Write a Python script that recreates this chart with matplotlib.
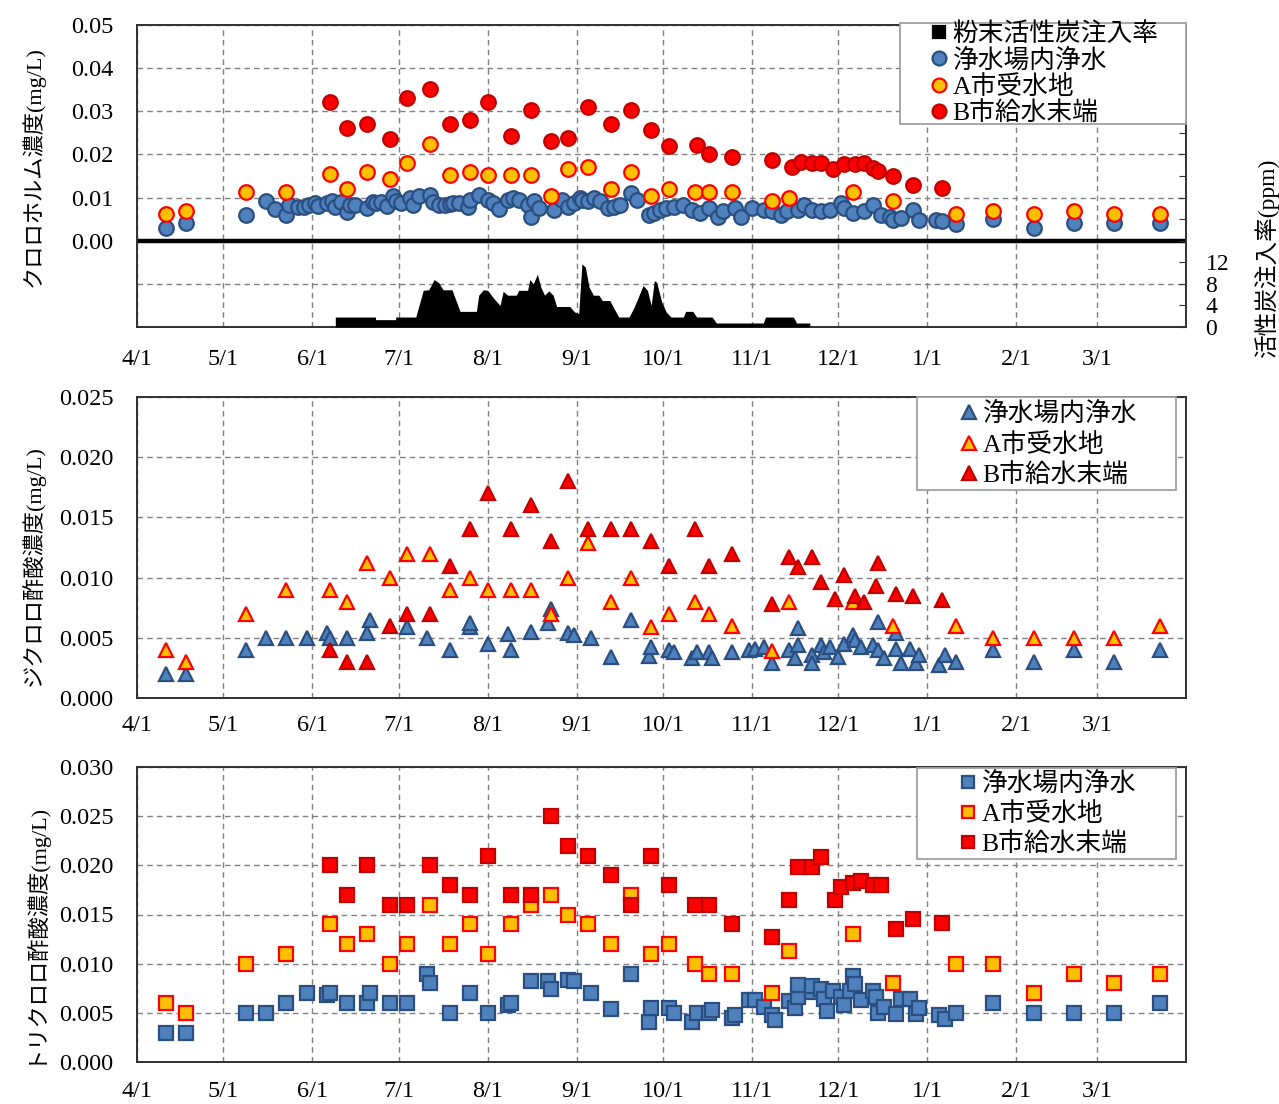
import matplotlib
matplotlib.use('Agg')
import matplotlib.pyplot as plt
from matplotlib.lines import Line2D
from matplotlib.patches import Rectangle

plt.rcParams['font.family'] = ['Liberation Serif', 'Noto Sans CJK JP']

# ---------------- data (days counted from 4/1) ----------------
month_days = [0, 30, 61, 91, 122, 153, 183, 214, 244, 275, 306, 334]
month_labels = ['4/1', '5/1', '6/1', '7/1', '8/1', '9/1', '10/1', '11/1', '12/1', '1/1', '2/1', '3/1']

series_names = ['浄水場内浄水', 'A市受水地', 'B市給水末端']
pac_name = '粉末活性炭注入率'

# Chloroform (mg/L)
thm_pw_day = [10, 17, 38, 45, 48, 52, 53, 56, 58, 60, 62, 63, 66, 68, 69, 71, 73, 74, 76, 80, 82, 83, 85, 87,
              89, 90, 92, 95, 96, 98, 102, 103, 105, 107, 109, 110, 112, 115, 116, 119, 122, 124, 126, 129,
              131, 133, 136, 137, 138, 140, 145, 148, 150, 152, 154, 155, 157, 159, 161, 164, 166, 168, 172,
              174, 178, 180, 182, 184, 187, 190, 193, 196, 199, 202, 204, 208, 210, 214, 218, 221, 224, 226,
              230, 232, 235, 238, 241, 245, 246, 249, 253, 256, 259, 262, 263, 266, 270, 272, 278, 280, 285,
              298, 312, 326, 340, 356]
thm_pw = [0.0029, 0.0041, 0.0060, 0.0091, 0.0074, 0.0060, 0.0083, 0.0079, 0.0079, 0.0083, 0.0087, 0.0081,
          0.0087, 0.0091, 0.0079, 0.0089, 0.0066, 0.0083, 0.0083, 0.0076, 0.0089, 0.0087, 0.0089, 0.0081,
          0.0103, 0.0091, 0.0087, 0.0099, 0.0083, 0.0104, 0.0105, 0.0089, 0.0083, 0.0083, 0.0086, 0.0087,
          0.0087, 0.0079, 0.0095, 0.0105, 0.0095, 0.0087, 0.0073, 0.0095, 0.0099, 0.0095, 0.0083, 0.0056,
          0.0091, 0.0076, 0.0072, 0.0095, 0.0079, 0.0087, 0.0099, 0.0095, 0.0091, 0.0099, 0.0091, 0.0076,
          0.0079, 0.0083, 0.0110, 0.0095, 0.0060, 0.0064, 0.0072, 0.0076, 0.0079, 0.0083, 0.0072, 0.0064,
          0.0076, 0.0056, 0.0068, 0.0076, 0.0056, 0.0076, 0.0072, 0.0068, 0.0060, 0.0068, 0.0072, 0.0083,
          0.0072, 0.0068, 0.0072, 0.0087, 0.0076, 0.0064, 0.0068, 0.0083, 0.0060, 0.0056, 0.0049, 0.0052,
          0.0072, 0.0049, 0.0049, 0.0046, 0.0039, 0.0051, 0.0029, 0.0041, 0.0041, 0.0041]

a_day = [10, 17, 38, 52, 67, 73, 80, 88, 94, 102, 109, 116, 122, 130, 137, 144, 150, 157, 165, 172, 179,
         185, 194, 199, 207, 221, 227, 249, 263, 285, 298, 312, 326, 340, 356]
thm_a = [0.0062, 0.0069, 0.0112, 0.0112, 0.0154, 0.0120, 0.0160, 0.0143, 0.0180, 0.0225, 0.0153, 0.0160,
         0.0153, 0.0153, 0.0152, 0.0103, 0.0166, 0.0172, 0.0120, 0.0159, 0.0103, 0.0120, 0.0112, 0.0112,
         0.0112, 0.0091, 0.0099, 0.0112, 0.0091, 0.0062, 0.0069, 0.0062, 0.0069, 0.0062, 0.0062]

thm_b_day = [67, 73, 80, 88, 94, 102, 109, 116, 122, 130, 137, 144, 150, 157, 165, 172, 179, 185, 195, 199,
             207, 221, 228, 231, 235, 238, 242, 246, 250, 253, 256, 258, 263, 270, 280]
thm_b = [0.0322, 0.0262, 0.0271, 0.0236, 0.0331, 0.0352, 0.0271, 0.0280, 0.0322, 0.0243, 0.0303, 0.0232,
         0.0237, 0.0311, 0.0270, 0.0302, 0.0257, 0.0220, 0.0223, 0.0200, 0.0195, 0.0188, 0.0172, 0.0182,
         0.0179, 0.0180, 0.0166, 0.0178, 0.0178, 0.0180, 0.0168, 0.0162, 0.0149, 0.0129, 0.0122]

# Powdered activated carbon dose (ppm)
pac_day = [69, 69, 83, 83, 90, 90, 97, 99.6, 101.5, 103.4, 105, 106.5, 109.6, 112.4, 118.1, 118.9, 120.5,
           122, 124.3, 126.3, 127.4, 129, 132, 132.8, 135.9, 136.7, 137.9, 139.3, 140.5, 141.8, 143.3,
           144.8, 146, 150.6, 152.2, 153.7, 154.8, 156, 157.3, 158.8, 160.7, 161.9, 164.5, 167.6, 171.2,
           173, 176.1, 177.6, 178.9, 180, 180.8, 182.6, 184.1, 185.8, 190.1, 190.9, 193.4, 194.7, 200.1,
           201.6, 217.9, 218.7, 228.4, 229.5, 234.1, 234.1]
pac_ppm = [0, 1.85, 1.85, 1.36, 1.36, 1.85, 1.85, 6.8, 6.9, 8.8, 8.2, 6.9, 6.9, 2.9, 2.9, 5.9, 6.9,
           6.8, 5.2, 4.0, 6.6, 5.9, 5.9, 6.8, 6.8, 8.8, 8.0, 9.8, 7.4, 5.9, 6.7,
           5.9, 3.8, 3.8, 2.8, 2.5, 11.7, 11.1, 7.4, 5.9, 5.9, 4.9, 4.9, 1.85, 1.85,
           3.7, 7.7, 6.8, 4.0, 8.6, 8.3, 4.6, 2.8, 1.85, 1.85, 2.9, 2.9, 1.85, 1.85,
           0.74, 0.74, 1.85, 1.85, 0.74, 0.74, 0]

# Dichloroacetic acid (mg/L)
dca_pw_day = [10, 17, 38, 45, 52, 59, 66, 67, 73, 80, 81, 94, 101, 109, 116, 116, 122, 129, 130, 137, 143,
              144, 150, 152, 158, 165, 172, 178, 179, 185, 187, 193, 195, 199, 200, 207, 213, 215, 218, 221,
              227, 229, 230, 230, 235, 235, 238, 239, 241, 244, 246, 249, 250, 252, 256, 258, 258, 260, 264,
              264, 266, 269, 271, 272, 279, 281, 285, 298, 312, 326, 340, 356]
dca_pw = [0.002, 0.002, 0.004, 0.005, 0.005, 0.005, 0.0054, 0.005, 0.005, 0.0054, 0.0065, 0.0059, 0.005,
          0.004, 0.0059, 0.0062, 0.0045, 0.0053, 0.004, 0.0055, 0.0062, 0.0074, 0.0054, 0.0052, 0.005,
          0.0034, 0.0065, 0.0035, 0.0042, 0.004, 0.0038, 0.0033, 0.0038, 0.0038, 0.0033, 0.0038, 0.004,
          0.0041, 0.0042, 0.0029, 0.004, 0.0033, 0.0044, 0.0058, 0.0036, 0.0029, 0.0044, 0.0038, 0.0042,
          0.0034, 0.0045, 0.0052, 0.0048, 0.0042, 0.0044, 0.0063, 0.004, 0.0033, 0.0041, 0.0054, 0.0029,
          0.0041, 0.0029, 0.0036, 0.0027, 0.0036, 0.003, 0.004, 0.003, 0.004, 0.003, 0.004]
dca_a = [0.004, 0.003, 0.007, 0.009, 0.009, 0.008, 0.0112, 0.010, 0.012, 0.012, 0.009, 0.010, 0.009,
         0.009, 0.009, 0.007, 0.010, 0.0129, 0.008, 0.010, 0.0059, 0.007, 0.008, 0.007, 0.006, 0.0039,
         0.008, 0.008, 0.006, 0.006, 0.005, 0.005, 0.005, 0.005, 0.006]
dca_b_day = [67, 73, 80, 88, 94, 102, 109, 116, 122, 130, 137, 144, 150, 157, 165, 172, 179, 185, 194, 199,
             207, 221, 227, 230, 235, 238, 243, 246, 250, 253, 257, 258, 264, 270, 280]
dca_b = [0.004, 0.003, 0.003, 0.006, 0.007, 0.007, 0.011, 0.014, 0.017, 0.014, 0.016, 0.013, 0.018, 0.014,
         0.014, 0.014, 0.013, 0.011, 0.014, 0.011, 0.012, 0.0078, 0.0117, 0.0109, 0.0117, 0.0096, 0.0082,
         0.0102, 0.0085, 0.008, 0.0093, 0.0112, 0.0086, 0.0085, 0.0081]

# Trichloroacetic acid (mg/L)
tca_pw_day = [10, 17, 38, 45, 52, 59, 66, 67, 73, 80, 81, 88, 94, 101, 102, 109, 116, 122, 129, 130, 137,
              143, 144, 150, 152, 158, 165, 172, 178, 179, 185, 187, 193, 195, 199, 200, 207, 208, 213, 215,
              218, 221, 222, 227, 229, 230, 230, 235, 235, 238, 239, 240, 242, 245, 246, 248, 249, 250, 252,
              256, 257, 258, 260, 264, 266, 269, 271, 272, 279, 281, 285, 298, 312, 326, 340, 356]
tca_pw = [0.003, 0.003, 0.005, 0.005, 0.006, 0.007, 0.0068, 0.007, 0.006, 0.006, 0.007, 0.006, 0.006,
          0.009, 0.008, 0.005, 0.007, 0.005, 0.0058, 0.006, 0.0082, 0.0082, 0.0074, 0.0083, 0.0082, 0.007,
          0.0054, 0.009, 0.0041, 0.0055, 0.0055, 0.005, 0.0041, 0.005, 0.005, 0.0053, 0.0045, 0.0048,
          0.0063, 0.0063, 0.0056, 0.0048, 0.0043, 0.0062, 0.0055, 0.0066, 0.0078, 0.0071, 0.0077, 0.0074,
          0.0064, 0.0052, 0.0072, 0.0066, 0.0058, 0.0072, 0.0087, 0.0079, 0.0063, 0.0072, 0.0066, 0.005,
          0.0056, 0.0049, 0.0064, 0.0064, 0.0049, 0.0055, 0.0048, 0.0044, 0.005, 0.006, 0.005, 0.005,
          0.005, 0.006]
tca_a = [0.006, 0.005, 0.010, 0.011, 0.014, 0.012, 0.013, 0.010, 0.012, 0.016, 0.012, 0.014, 0.011, 0.014,
         0.016, 0.017, 0.015, 0.014, 0.012, 0.017, 0.011, 0.012, 0.010, 0.009, 0.009, 0.007, 0.0113, 0.013,
         0.008, 0.010, 0.010, 0.007, 0.009, 0.008, 0.009]
tca_b_day = [67, 73, 80, 88, 94, 102, 109, 116, 122, 130, 137, 144, 150, 157, 165, 172, 179, 185, 194, 199,
             207, 221, 227, 230, 235, 238, 243, 245, 249, 252, 256, 259, 264, 270, 280]
tca_b = [0.020, 0.017, 0.020, 0.016, 0.016, 0.020, 0.018, 0.017, 0.021, 0.017, 0.017, 0.025, 0.022, 0.021,
         0.019, 0.016, 0.021, 0.018, 0.016, 0.016, 0.014, 0.0127, 0.0165, 0.0198, 0.0198, 0.0208, 0.0165,
         0.0178, 0.0182, 0.0184, 0.018, 0.018, 0.0135, 0.0145, 0.0141]

# ---------------- styles ----------------
BLUE_F, BLUE_E = '#4F81BD', '#2A4E7F'
ORG_F, ORG_E = '#FFC000', '#FF0000'
RED_F, RED_E = '#FF0000', '#C00000'
GRID = '#808080'
SPINE = '#303030'
TICK_FS = 17.5
LEG_FS = 18.5

W, H = 1279, 1104
fig = plt.figure(figsize=(W / 100, H / 100), dpi=100)


def add_ax(top_px, bottom_px):
    left, right = 137, 1186
    return fig.add_axes([left / W, 1 - bottom_px / H, (right - left) / W, (bottom_px - top_px) / H])


def style(ax, xpad):
    ax.set_xlim(0, 365)
    ax.set_xticks(month_days)
    ax.set_xticklabels(month_labels)
    ax.grid(True, ls=(0, (4, 3)), color=GRID, lw=1.0)
    ax.set_axisbelow(True)
    ax.tick_params(axis='both', length=0, labelsize=TICK_FS)
    ax.tick_params(axis='x', pad=xpad)
    ax.tick_params(axis='y', pad=17)
    for s in ax.spines.values():
        s.set_color(SPINE)
        s.set_linewidth(1.4)


def pts(ax, d, v, marker, face, edge, ms, z):
    ax.plot(d, v, ls='none', marker=marker, ms=ms, mfc=face, mec=edge, mew=1.6, zorder=z)


def legend_box(x0, y0, x1, y1):
    fig.patches.append(Rectangle((x0 / W, 1 - y1 / H), (x1 - x0) / W, (y1 - y0) / H,
                                 transform=fig.transFigure, facecolor='white',
                                 edgecolor='#A0A0A0', lw=1.3, zorder=4))


def legend_at(handles, labels, left_px, center_px, spacing):
    fig.legend(handles, labels, loc='center left',
               bbox_to_anchor=(left_px / W, 1 - center_px / H), bbox_transform=fig.transFigure,
               fontsize=LEG_FS, frameon=False, handlelength=0.8, handletextpad=0.12,
               labelspacing=spacing, borderpad=0, borderaxespad=0).set_zorder(5)


def handle(marker, face, edge, ms):
    return Line2D([], [], ls='none', marker=marker, ms=ms, mfc=face, mec=edge, mew=1.6)


# ---------- top panel: chloroform ----------
ax1 = add_ax(25, 327)
style(ax1, 16)
ax1.set_ylim(-0.02, 0.05)
ax1.set_yticks([-0.01, 0.0, 0.01, 0.02, 0.03, 0.04, 0.05])
ax1.set_yticklabels(['', '0.00', '0.01', '0.02', '0.03', '0.04', '0.05'])
ax1.axhline(0, color='black', lw=3.2, zorder=2)
pts(ax1, thm_pw_day, thm_pw, 'o', BLUE_F, BLUE_E, 10.5, 3)
pts(ax1, a_day, thm_a, 'o', ORG_F, ORG_E, 10.5, 4)
pts(ax1, thm_b_day, thm_b, 'o', RED_F, RED_E, 10.5, 5)
ax1.set_ylabel('クロロホルム濃度(mg/L)', fontsize=16)
ax1.yaxis.set_label_coords(-0.088, 0.53)

ax2 = ax1.twinx()
ax2.set_ylim(0, 56)
ax2.fill_between(pac_day, pac_ppm, 0, color='black', lw=0, zorder=2)
ax2.set_yticks(list(range(0, 57, 4)))
ax2.set_yticklabels(['0', '4', '8', '12'] + [''] * 11)
ax2.tick_params(axis='y', direction='in', length=5, pad=14, labelsize=17, color=SPINE)
for s in ax2.spines.values():
    s.set_visible(False)
ax2.set_ylabel('活性炭注入率(ppm)', fontsize=17)
ax2.yaxis.set_label_coords(1.065, 0.23)

legend_box(900, 23, 1186, 124)
legend_at([handle('s', 'black', 'black', 8), handle('o', BLUE_F, BLUE_E, 10),
           handle('o', ORG_F, ORG_E, 10), handle('o', RED_F, RED_E, 10)],
          [pac_name] + series_names, 929, 73.5, 0.09)

# ---------- middle panel: dichloroacetic acid ----------
ax3 = add_ax(397, 698)
style(ax3, 12)
ax3.set_ylim(0, 0.025)
ax3.set_yticks([0, 0.005, 0.01, 0.015, 0.02, 0.025])
ax3.set_yticklabels(['0.000', '0.005', '0.010', '0.015', '0.020', '0.025'])
pts(ax3, dca_pw_day, dca_pw, '^', BLUE_F, BLUE_E, 10.5, 3)
pts(ax3, a_day, dca_a, '^', ORG_F, ORG_E, 10.5, 4)
pts(ax3, dca_b_day, dca_b, '^', RED_F, RED_E, 10.5, 5)
ax3.set_ylabel('ジクロロ酢酸濃度(mg/L)', fontsize=16)
ax3.yaxis.set_label_coords(-0.088, 0.44)

legend_box(917, 397, 1176, 490)
legend_at([handle('^', BLUE_F, BLUE_E, 10), handle('^', ORG_F, ORG_E, 10), handle('^', RED_F, RED_E, 10)],
          series_names, 959, 444.5, 0.26)

# ---------- bottom panel: trichloroacetic acid ----------
ax4 = add_ax(767, 1062)
style(ax4, 14)
ax4.set_ylim(0, 0.030)
ax4.set_yticks([0, 0.005, 0.01, 0.015, 0.02, 0.025, 0.03])
ax4.set_yticklabels(['0.000', '0.005', '0.010', '0.015', '0.020', '0.025', '0.030'])
pts(ax4, tca_pw_day, tca_pw, 's', BLUE_F, BLUE_E, 10, 3)
pts(ax4, a_day, tca_a, 's', ORG_F, ORG_E, 10, 4)
pts(ax4, tca_b_day, tca_b, 's', RED_F, RED_E, 10, 5)
ax4.set_ylabel('トリクロロ酢酸濃度(mg/L)', fontsize=16)
ax4.yaxis.set_label_coords(-0.088, 0.44)

legend_box(917, 768, 1176, 859)
legend_at([handle('s', BLUE_F, BLUE_E, 9), handle('s', ORG_F, ORG_E, 9), handle('s', RED_F, RED_E, 9)],
          series_names, 958, 814, 0.24)

fig.savefig('out.png', dpi=100, facecolor='white')
